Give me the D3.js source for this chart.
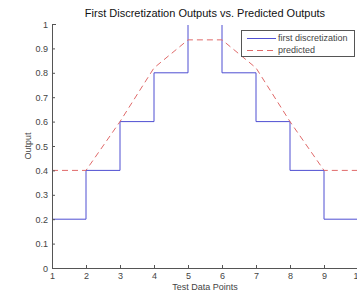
<!DOCTYPE html>
<html><head><meta charset="utf-8">
<script src="https://cdn.jsdelivr.net/npm/d3@7"></script>
<style>body{margin:0;background:#fff}svg{display:block}text{font-family:"Liberation Sans",Arial,sans-serif}</style>
</head><body><svg id="c" width="357" height="294"></svg>
<script>
const xTicks = [1,2,3,4,5,6,7,8,9,10];
const yTicks = [0,0.1,0.2,0.3,0.4,0.5,0.6,0.7,0.8,0.9,1];
const stepX = [1,2,3,4,5,6,7,8,9,10];
const firstDisc = [0.2,0.4,0.6,0.8,1.0,0.8,0.6,0.4,0.2,0.2];
const predicted = [0.4,0.4,0.6,0.82,0.935,0.935,0.82,0.6,0.4,0.4];
const seriesNames = ["first discretization","predicted"];

const svg = d3.select("#c");
const m = {l:52, r:358, t:24, b:268};
const x = d3.scaleLinear().domain([1,10]).range([m.l, m.r]);
const y = d3.scaleLinear().domain([0,1]).range([m.b, m.t]);
const blue = "#4f4fd2", red = "#e06a6a", axc = "#555", txc = "#444";

svg.append("clipPath").attr("id","clip").append("rect")
  .attr("x", m.l).attr("y", m.t+1).attr("width", m.r-m.l).attr("height", m.b-m.t);

const g = svg.append("g").attr("clip-path","url(#clip)");
const pts = stepX.map((d,i)=>[d, firstDisc[i]]);
g.append("path").datum(pts)
  .attr("d", d3.line().x(d=>x(d[0])).y(d=>y(d[1])).curve(d3.curveStepAfter))
  .attr("fill","none").attr("stroke",blue).attr("stroke-width",1);
g.append("path").datum(stepX.map((d,i)=>[d, predicted[i]]))
  .attr("d", d3.line().x(d=>x(d[0])).y(d=>y(d[1])))
  .attr("fill","none").attr("stroke",red).attr("stroke-width",1).attr("stroke-dasharray","6,4");

// axes
const ya = svg.append("g").attr("transform",`translate(${m.l},0)`)
  .call(d3.axisRight(y).tickValues(yTicks).tickSize(3).tickFormat(d=>d3.format("")(+d.toFixed(1))));
ya.select(".domain").remove();
ya.selectAll("line").attr("stroke",axc);
ya.selectAll("text").attr("x",-4).attr("text-anchor","end").attr("fill",txc).attr("font-size",9).attr("dy","0.35em");
svg.append("line").attr("x1",m.l+0.5).attr("x2",m.l+0.5).attr("y1",m.t).attr("y2",m.b).attr("stroke",axc);

const xa = svg.append("g").attr("transform",`translate(0,${m.b})`)
  .call(d3.axisTop(x).tickValues(xTicks).tickSize(3).tickFormat(d3.format("d")));
xa.select(".domain").remove();
xa.selectAll("line").attr("stroke",axc);
xa.selectAll("text").attr("y",5).attr("dy","0.71em").attr("fill",txc).attr("font-size",9);
svg.append("line").attr("x1",m.l).attr("x2",m.r).attr("y1",m.b+0.5).attr("y2",m.b+0.5).attr("stroke",axc);

svg.append("line").attr("x1",m.l).attr("x2",m.l+4).attr("y1",m.t+0.5).attr("y2",m.t+0.5).attr("stroke",axc);

// labels
svg.append("text").attr("x",(m.l+m.r)/2).attr("y",17).attr("text-anchor","middle")
  .attr("font-size",11).attr("fill","#111").text("First Discretization Outputs vs. Predicted Outputs");
svg.append("text").attr("x",(m.l+m.r)/2).attr("y",290).attr("text-anchor","middle")
  .attr("font-size",9).attr("fill",txc).text("Test Data Points");
svg.append("text").attr("transform",`translate(31,${(m.t+m.b)/2}) rotate(-90)`).attr("text-anchor","middle")
  .attr("font-size",9).attr("fill",txc).text("Output");

// legend
const lg = svg.append("g");
lg.append("rect").attr("x",241.5).attr("y",30.5).attr("width",113).attr("height",26)
  .attr("fill","#fff").attr("stroke","#555");
const lc = [blue, red], ld = [null, "6,4"];
seriesNames.forEach((n,i)=>{
  const yy = 38 + i*12;
  lg.append("line").attr("x1",247).attr("x2",276).attr("y1",yy+0.5).attr("y2",yy+0.5)
    .attr("stroke",lc[i]).attr("stroke-dasharray",ld[i]);
  lg.append("text").attr("x",278).attr("y",yy).attr("dy","0.35em").attr("font-size",9).attr("fill",txc).text(n);
});
</script></body></html>
